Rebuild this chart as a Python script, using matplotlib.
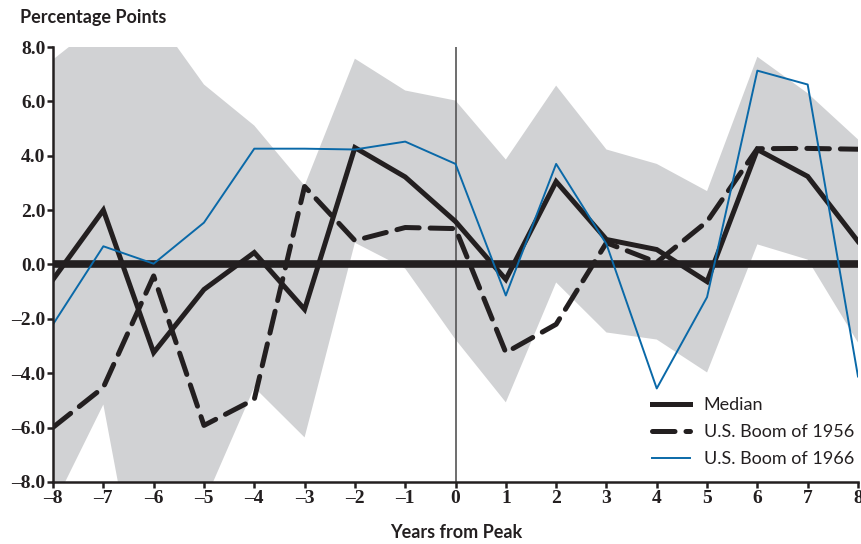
import numpy as np
import matplotlib.pyplot as plt

years = np.arange(-8, 9)

median = [-0.55, 2.0, -3.24, -0.92, 0.44, -1.65, 4.3, 3.22, 1.58, -0.55,
          3.05, 0.92, 0.55, -0.63, 4.23, 3.24, 0.85]
boom_1956 = [-5.99, -4.52, -0.42, -5.92, -4.96, 2.87, 0.88, 1.36, 1.32, -3.24,
             -2.2, 0.8, 0.08, 1.58, 4.26, 4.27, 4.24]
boom_1966 = [-2.2, 0.67, 0.03, 1.54, 4.26, 4.26, 4.23, 4.52, 3.7, -1.14,
             3.7, 0.75, -4.56, -1.2, 7.13, 6.62, -4.12]

band_upper = [7.54, 9.0, 9.2, 6.62, 5.11, 2.9, 7.57, 6.4, 6.03, 3.86,
              6.58, 4.23, 3.7, 2.7, 7.64, 6.3, 4.6]
band_lower = [-8.9, -5.15, -15.0, -8.77, -4.52, -6.36, 0.8, -0.15, -2.76, -5.07,
              -0.66, -2.5, -2.76, -3.97, 0.74, 0.18, -2.87]

yticks = np.arange(-8, 9, 2)

#%%
fig = plt.figure(figsize=(8.61, 5.44), dpi=100)
ax = fig.add_axes([0.0616, 0.114, 0.9349, 0.7996])

ax.fill_between(years, band_lower, band_upper, color='#d1d2d4', lw=0, zorder=1)
ax.axvline(0, color='#555555', lw=1.2, zorder=2)
ax.axhline(0, color='#231f20', lw=5.5, zorder=3)

ax.plot(years, median, color='#231f20', lw=3.6, solid_joinstyle='miter',
        label='Median', zorder=4)
ax.plot(years, boom_1956, color='#231f20', lw=3.6, dashes=(4.5, 2.2),
        dash_capstyle='round', label='U.S. Boom of 1956', zorder=4)
ax.plot(years, boom_1966, color='#0a69a8', lw=1.4, label='U.S. Boom of 1966', zorder=5)

ax.set_xlim(-8, 8)
ax.set_ylim(-8, 8)
ax.set_xticks(years)
ax.set_yticks(yticks)
ax.set_xticklabels([str(v).replace('-', '\u2013') for v in years],
                   family='Liberation Serif', fontweight='bold', fontsize=14)
ax.set_yticklabels([('%.1f' % v).replace('-', '\u2013') for v in yticks],
                   family='Liberation Serif', fontweight='bold', fontsize=14)
ax.tick_params(axis='both', direction='out', length=4, width=1.8, color='#231f20',
               labelcolor='#231f20', pad=1.5)

for s in ['top', 'right']:
    ax.spines[s].set_visible(False)
for s in ['left', 'bottom']:
    ax.spines[s].set_linewidth(1.8)
    ax.spines[s].set_color('#231f20')
    ax.spines[s].set_zorder(6)

fig.text(0.023, 0.967, 'Percentage Points', family='Lato', fontweight='bold',
         fontsize=13, color='#231f20', va='center', ha='left')
fig.text(0.530, 0.022, 'Years from Peak', family='Lato', fontweight='bold',
         fontsize=13, color='#231f20', va='center', ha='center')

leg = ax.legend(loc='lower right', bbox_to_anchor=(1.015, -0.004), frameon=False,
                handlelength=2.1, handletextpad=0.75, labelspacing=0.62,
                prop={'family': 'Lato', 'size': 13})
for t in leg.get_texts():
    t.set_color('#231f20')

plt.savefig('out.png', dpi=100)
